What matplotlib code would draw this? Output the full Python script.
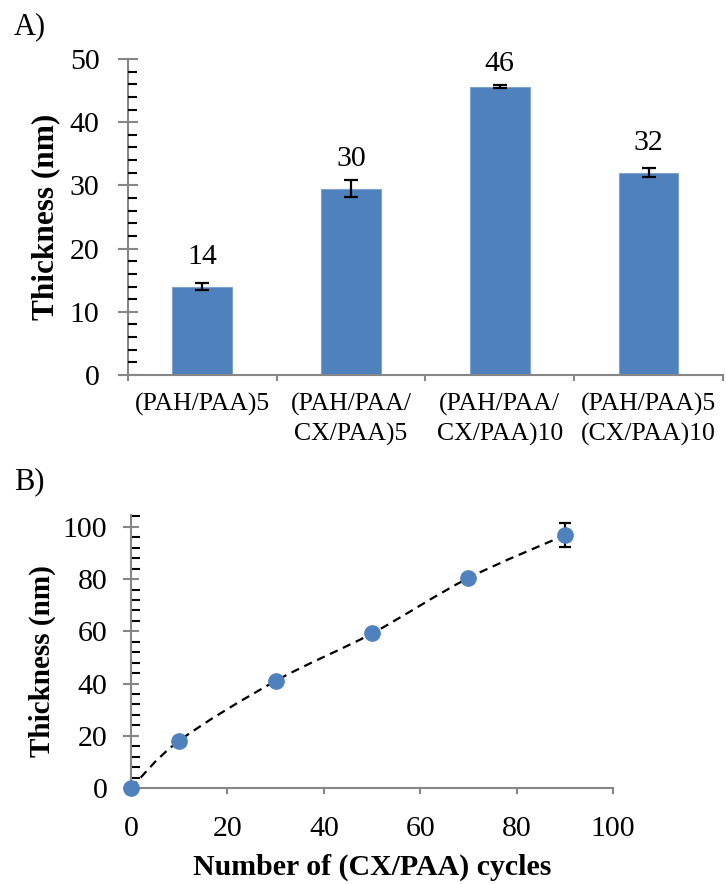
import numpy as np
import matplotlib
matplotlib.use("Agg")
import matplotlib.pyplot as plt
from matplotlib.path import Path
from matplotlib.patches import PathPatch
from matplotlib.ticker import MultipleLocator

plt.rcParams['font.family'] = ['Liberation Serif', 'DejaVu Serif']

# panel A data
categories = ["(PAH/PAA)5", "(PAH/PAA/\nCX/PAA)5", "(PAH/PAA/\nCX/PAA)10", "(PAH/PAA)5\n(CX/PAA)10"]
thickness_a = [14.0, 29.5, 45.6, 32.0]
error_a = [0.5, 1.35, 0.25, 0.7]
labels_a = ["14", "30", "46", "32"]

# panel B data
cycles = [0, 10, 30, 50, 70, 90]
thickness_b = [0.0, 18.1, 41.0, 59.2, 80.4, 96.8]
error_b = [0, 0, 0, 0, 0, 4.7]

BLUE = '#4F81BD'
GREY = '#868686'


def smooth_path(x, y):
    """Excel-style smoothed line: Catmull-Rom turned into cubic Bezier pieces."""
    pts = np.column_stack([x, y]).astype(float)
    n = len(pts)
    verts = [pts[0]]
    codes = [Path.MOVETO]
    for i in range(n - 1):
        p_prev = pts[max(i - 1, 0)]
        p0, p1 = pts[i], pts[i + 1]
        p_next = pts[min(i + 2, n - 1)]
        c1 = p0 + (p1 - p_prev) / 6.0
        c2 = p1 - (p_next - p0) / 6.0
        verts += [c1, c2, p1]
        codes += [Path.CURVE4] * 3
    return Path(verts, codes)


def style_axes(ax):
    for s in ['top', 'right']:
        ax.spines[s].set_visible(False)
    for s in ['left', 'bottom']:
        ax.spines[s].set_color(GREY)
        ax.spines[s].set_linewidth(1.5)
    ax.tick_params(colors=GREY, labelcolor='black', width=1.5)


fig = plt.figure(figsize=(7.26, 8.84), dpi=100)

# ---------------- panel A ----------------
axA = fig.add_axes([0.1759, 0.5758, 0.82, 0.3575])
style_axes(axA)
xpos = np.arange(len(categories))
axA.bar(xpos, thickness_a, width=0.4, color=BLUE, edgecolor='#7FA3CF', linewidth=0.8, zorder=2)
axA.errorbar(xpos, thickness_a, yerr=error_a, fmt='none', ecolor='black',
             elinewidth=1.6, capsize=5.2, capthick=1.6, zorder=3)
for x, v, t in zip(xpos, thickness_a, labels_a):
    axA.text(x, min(v + 2.6, 47.1), t, ha='center', va='bottom', fontsize=21.5)

axA.set_xlim(-0.5, len(categories) - 0.5)
axA.set_ylim(0, 50)
axA.set_xticks(np.arange(-0.5, len(categories), 1.0))
axA.set_xticklabels([])
axA.set_xticks(xpos, minor=True)
axA.set_xticklabels(categories, minor=True, fontsize=18.5, linespacing=1.4)
axA.tick_params(axis='x', which='major', direction='out', length=4.3)
axA.tick_params(axis='x', which='minor', length=0, pad=13)
axA.yaxis.set_major_locator(MultipleLocator(10))
axA.yaxis.set_minor_locator(MultipleLocator(2))
axA.tick_params(axis='y', which='major', direction='inout', length=13.7, pad=13.5, labelsize=21.5)
axA.tick_params(axis='y', which='minor', direction='in', length=6.5, width=1.5)
axA.set_ylabel("Thickness (nm)", fontsize=22.5, fontweight='bold')
axA.yaxis.label.set_va('center')
axA.yaxis.set_label_coords(-0.137, 0.5)
axA.set_axisbelow(False)

fig.text(0.019, 1 - 12 / 884, "A)", fontsize=22, ha='left', va='top')

# ---------------- panel B ----------------
axB = fig.add_axes([0.1805, 0.1086, 0.664, 0.309])
style_axes(axB)
axB.add_patch(PathPatch(smooth_path(cycles, thickness_b), facecolor='none', edgecolor='black',
                        linewidth=1.6, linestyle=(0, (3.8, 2.6)), zorder=2))
axB.errorbar(cycles, thickness_b, yerr=error_b, fmt='none', ecolor='black',
             elinewidth=1.6, capsize=4.3, capthick=1.6, zorder=3)
axB.plot(cycles, thickness_b, linestyle='none', marker='o', markersize=11,
         color=BLUE, markeredgecolor=BLUE, zorder=4, clip_on=False)

axB.set_xlim(0, 100)
axB.set_ylim(0, 104.6)
axB.xaxis.set_major_locator(MultipleLocator(20))
axB.yaxis.set_major_locator(MultipleLocator(20))
axB.yaxis.set_minor_locator(MultipleLocator(4))
axB.set_yticks(np.arange(0, 101, 20))
axB.tick_params(axis='x', which='major', direction='out', length=4.3, pad=16, labelsize=21.5)
axB.tick_params(axis='y', which='major', direction='inout', length=12, pad=11, labelsize=21.5)
axB.tick_params(axis='y', which='minor', direction='in', length=6.5, width=1.5)
axB.set_xlabel("Number of (CX/PAA) cycles", fontsize=21.5, fontweight='bold')
axB.xaxis.label.set_va('center')
axB.xaxis.set_label_coords(0.5, -0.29)
axB.set_ylabel("Thickness (nm)", fontsize=21, fontweight='bold')
axB.yaxis.label.set_va('center')
axB.yaxis.set_label_coords(-0.184, 0.465)

fig.text(0.019, 1 - 467 / 884, "B)", fontsize=22, ha='left', va='top')

plt.savefig("out.png", dpi=100)
plt.close()
